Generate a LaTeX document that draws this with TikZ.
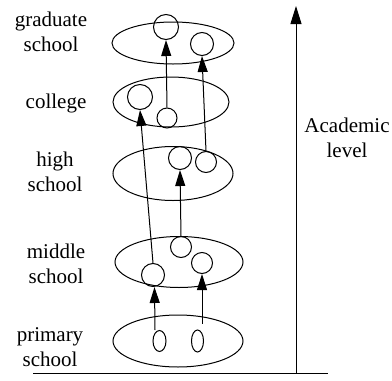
\documentclass[tikz,border=0pt]{standalone}
\usepackage{fontspec}
\setmainfont{LiberationSerif}[Extension=.ttf,UprightFont=*-Regular,BoldFont=*-Bold]
\usetikzlibrary{arrows.meta,shapes.geometric}

\begin{document}
\begin{tikzpicture}[x=1pt,y=-1pt, line width=1pt,
 >={Triangle[length=16pt,width=10pt]},
 level/.style={draw,ellipse,inner sep=0pt},
 stage/.style={draw,circle,inner sep=0pt},
 levelname/.style={align=center,inner sep=0pt,font=\rmfamily\fontsize{21}{25}\selectfont}]
\useasboundingbox (0,0) rectangle (392,381);
% school levels
\node[level,minimum width=122pt,minimum height=42pt] (grad) at (173,43) {};
\node[level,minimum width=116pt,minimum height=50pt] (coll) at (171,102) {};
\node[level,minimum width=120pt,minimum height=54pt] (high) at (173,173.5) {};
\node[level,minimum width=128pt,minimum height=51pt] (mid) at (179,262) {};
\node[level,minimum width=130pt,minimum height=52pt] (prim) at (178,341) {};
\node[levelname] (gradtext) at (51,32) {graduate\\school};
\node[levelname] (colltext) at (56,103) {college};
\node[levelname] (hightext) at (55,172) {high\\school};
\node[levelname] (midtext) at (56,264) {middle\\school};
\node[levelname] (primtext) at (50,347) {primary\\school};
% pupils at each level
\node[stage,minimum size=25pt] (g1) at (166,27) {};
\node[stage,minimum size=23pt] (g2) at (202,44) {};
\node[stage,minimum size=25pt] (c1) at (140,97) {};
\node[stage,minimum size=20pt] (c2) at (167,118) {};
\node[stage,minimum size=23pt] (h1) at (180,158) {};
\node[stage,minimum size=21pt] (h2) at (206,162) {};
\node[stage,minimum size=21pt] (m1) at (181,247) {};
\node[stage,minimum size=21pt] (m2) at (202,263) {};
\node[stage,minimum size=23pt] (m3) at (153,275) {};
\node[level,minimum width=13pt,minimum height=21pt] (p1) at (159.5,341) {};
\node[level,minimum width=12pt,minimum height=22pt] (p2) at (197.5,341) {};
\draw[->] ([xshift=-4.5pt]p1.north) -- ([xshift=1.5pt]m3.south);
\draw[->] ([xshift=4.5pt,yshift=6pt]p2.north) -- (m2.south);
\draw[->] (m1.north) -- (h1.south);
\draw[->] (m3.north) -- (c1.south);
\draw[->] (h2.north) -- (g2.south);
\draw[->] (c2.north) -- (g1.south);
% axis
\coordinate (left) at (33,373);
\coordinate (right) at (328,373);
\coordinate (base) at (296,373);
\coordinate (top) at (296,6);
\draw (left) -- (right);
\draw[-{Triangle[length=18pt,width=11pt]}] (base) -- (top);
\node[levelname] (axistext) at (347,138) {Academic\\level};
\end{tikzpicture}
\end{document}
